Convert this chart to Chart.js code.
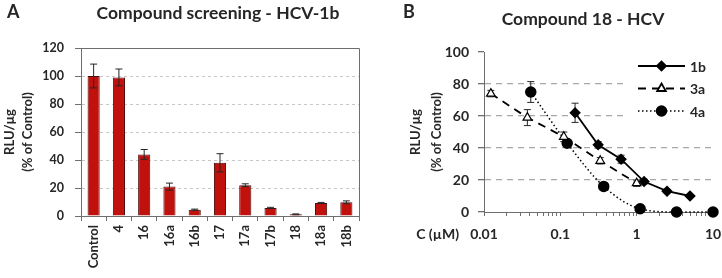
<!DOCTYPE html>
<html>
<head>
<meta charset="utf-8">
<script src="https://cdn.jsdelivr.net/npm/chart.js@4/dist/chart.umd.min.js"></script>
<style>
  html, body { margin: 0; padding: 0; background: #fff; }
  #wrapA { position: absolute; left: 0; top: 0; width: 400px; height: 278px; }
  #wrapB { position: absolute; left: 400px; top: 0; width: 322px; height: 278px; }
</style>
</head>
<body>
<div id="wrapA"><canvas id="chartA"></canvas></div>
<div id="wrapB"><canvas id="chartB"></canvas></div>
<script>
// ===== PANEL A DATA =====
const compounds = ["Control", "4", "16", "16a", "16b", "17", "17a", "17b", "18", "18a", "18b"];
const screenValues = [100, 99, 44, 21, 4.5, 38, 22, 5.8, 1.2, 9.3, 9.8];
const screenErrors = [8.5, 6, 3.5, 2.5, 0.4, 6.5, 1, 0.4, 0.3, 0.4, 1];
const yTicksA = [0, 20, 40, 60, 80, 100, 120];

// ===== PANEL B DATA =====
const conc1b = [0.156, 0.3125, 0.625, 1.25, 2.5, 5];
const rlu1b  = [62, 42, 33, 19, 13, 10];
const err1b  = [6, 2, 2.5, 1.5, 1, 1];

const conc3a = [0.0123, 0.037, 0.111, 0.333, 1.0];
const rlu3a  = [74, 59, 47, 32, 18];
const err3a  = [2, 5, 3, 2, 2];

const conc4a = [0.041, 0.123, 0.37, 1.11, 3.33, 10];
const rlu4a  = [75, 43, 16, 2, 0, 0];
const err4a  = [6.5, 1, 1, 0.5, 0, 0];

const yTicksB = [0, 20, 40, 60, 80, 100];
const decades = [0.01, 0.1, 1, 10];

const FONT = "Lato, 'Open Sans', sans-serif";
const TEXT = "#262626";

// ===== SHARED PLUGINS =====
function drawErrors(chart) {
  const ctx = chart.ctx;
  const yScale = chart.scales.y;
  chart.data.datasets.forEach((ds, di) => {
    if (!ds.errors) return;
    const meta = chart.getDatasetMeta(di);
    ctx.save();
    ctx.strokeStyle = "#262626";
    ctx.lineWidth = 1;
    ctx.setLineDash([]);
    meta.data.forEach((el, i) => {
      const e = ds.errors[i];
      if (!e) return;
      const d = ds.data[i];
      const v = typeof d === "object" ? d.y : d;
      const top = yScale.getPixelForValue(v + e);
      const bot = yScale.getPixelForValue(v - e);
      const x = el.x;
      const cap = ds.capWidth || 3.5;
      ctx.beginPath();
      ctx.moveTo(x, top); ctx.lineTo(x, bot);
      ctx.moveTo(x - cap, top); ctx.lineTo(x + cap, top);
      ctx.moveTo(x - cap, bot); ctx.lineTo(x + cap, bot);
      ctx.stroke();
    });
    ctx.restore();
  });
}

const panelText = {
  id: "panelText",
  afterDraw(chart, args, opts) {
    const ctx = chart.ctx;
    ctx.save();
    ctx.fillStyle = TEXT;
    ctx.textBaseline = "middle";
    ctx.textAlign = "left";
    ctx.font = "bold 18px " + FONT;
    ctx.fillText(opts.letter, opts.letterX, opts.letterY);
    ctx.textAlign = "center";
    ctx.font = "bold 17.5px " + FONT;
    ctx.fillText(opts.title, opts.titleX, opts.titleY);
    ctx.restore();
  }
};

// ===== CHART A: COMPOUND SCREENING =====
const boxAndErrors = {
  id: "boxAndErrors",
  afterDatasetsDraw(chart) {
    drawErrors(chart);
    const a = chart.chartArea;
    const ctx = chart.ctx;
    ctx.save();
    ctx.strokeStyle = "#6e6e6e";
    ctx.lineWidth = 1;
    ctx.beginPath();
    ctx.moveTo(a.left, a.top + 0.5);
    ctx.lineTo(a.right + 0.5, a.top + 0.5);
    ctx.lineTo(a.right + 0.5, a.bottom);
    ctx.stroke();
    ctx.restore();
  }
};

new Chart(document.getElementById("chartA"), {
  type: "bar",
  data: {
    labels: compounds,
    datasets: [{
      label: "HCV-1b",
      data: screenValues,
      errors: screenErrors,
      capWidth: 3.5,
      backgroundColor: "#c0110c",
      borderColor: "#4d0a08",
      borderWidth: 1,
      categoryPercentage: 0.48,
      barPercentage: 1
    }]
  },
  options: {
    responsive: true,
    maintainAspectRatio: false,
    devicePixelRatio: 1,
    animation: false,
    layout: { padding: { left: 0, right: 41, top: 48, bottom: 0 } },
    plugins: {
      legend: { display: false },
      tooltip: { enabled: false },
      panelText: { letter: "A", letterX: 7, letterY: 12, title: "Compound screening - HCV-1b", titleX: 218, titleY: 13 }
    },
    scales: {
      x: {
        offset: true,
        afterFit: s => { s.height = 62; s.paddingLeft = 0; s.paddingRight = 0; },
        grid: { offset: true, drawOnChartArea: false, tickLength: 5, tickColor: "#6e6e6e" },
        border: { color: "#6e6e6e" },
        ticks: {
          autoSkip: false, minRotation: 90, maxRotation: 90, padding: 4,
          color: TEXT, font: { family: FONT, size: 13, weight: "bold" }
        }
      },
      y: {
        min: 0, max: 120,
        afterFit: s => { s.width = 81; },
        afterBuildTicks: s => { s.ticks = yTicksA.map(v => ({ value: v })); },
        grid: {
          color: c => (c.tick.value === 0 || c.tick.value === 120) ? "rgba(0,0,0,0)" : "#c8c8c8",
          tickLength: 6, tickColor: "#6e6e6e"
        },
        border: { color: "#6e6e6e", dash: [3, 3] },
        ticks: { padding: 11, color: TEXT, font: { family: FONT, size: 12.5, weight: "bold" } },
        title: {
          display: true, text: ["RLU/µg", "(% of Control)"], color: TEXT,
          padding: { top: 1, bottom: 0 },
          font: { family: FONT, size: 13, weight: "bold", lineHeight: 1.4 }
        }
      }
    }
  },
  plugins: [boxAndErrors, panelText]
});

// ===== CHART B: COMPOUND 18 DOSE RESPONSE =====
const logTicks = [];
decades.forEach((d, i) => {
  if (i === decades.length - 1) { logTicks.push(d); return; }
  for (let m = 1; m <= 9; m++) logTicks.push(+(d * m).toPrecision(3));
});

const legendAndErrors = {
  id: "legendAndErrors",
  beforeDatasetsDraw(chart) {
    drawErrors(chart);
    const a = chart.chartArea;
    const ctx = chart.ctx;
    ctx.save();
    ctx.fillStyle = "#fff";
    ctx.fillRect(a.right - 86, a.top + 4, 86, 70);
    chart.data.datasets.forEach((ds, i) => {
      const y = a.top + 14 + i * 22.5;
      const x0 = a.right - 75, x1 = a.right - 28;
      ctx.strokeStyle = "#000";
      ctx.lineWidth = ds.borderWidth;
      ctx.setLineDash(ds.borderDash || []);
      ctx.beginPath(); ctx.moveTo(x0, y); ctx.lineTo(x1, y); ctx.stroke();
      ctx.setLineDash([]);
      ctx.fillStyle = ds.pointBackgroundColor;
      ctx.strokeStyle = "#000";
      Chart.helpers.drawPoint(ctx, {
        pointStyle: ds.pointStyle, radius: ds.pointRadius, rotation: 0, borderWidth: 1.2
      }, (x0 + x1) / 2, y);
      ctx.fillStyle = TEXT;
      ctx.font = "bold 14px " + FONT;
      ctx.textAlign = "left";
      ctx.textBaseline = "middle";
      ctx.fillText(ds.label, x1 + 5, y + 1);
    });
    ctx.restore();
  },
  afterDraw(chart) {
    const ctx = chart.ctx;
    const a = chart.chartArea;
    ctx.save();
    ctx.fillStyle = TEXT;
    ctx.font = "bold 14px " + FONT;
    ctx.textAlign = "right";
    ctx.textBaseline = "middle";
    ctx.fillText("C (µM)", a.left - 25, a.bottom + 22);
    ctx.restore();
  }
};

new Chart(document.getElementById("chartB"), {
  type: "line",
  data: {
    datasets: [
      {
        label: "1b",
        data: conc1b.map((c, i) => ({ x: c, y: rlu1b[i] })),
        errors: err1b,
        borderColor: "#000", borderWidth: 1.8, borderDash: [],
        pointStyle: "rectRot", pointRadius: 4.5,
        pointBackgroundColor: "#000", pointBorderColor: "#000",
        tension: 0, clip: false
      },
      {
        label: "3a",
        data: conc3a.map((c, i) => ({ x: c, y: rlu3a[i] })),
        errors: err3a,
        borderColor: "#000", borderWidth: 1.8, borderDash: [8, 6],
        pointStyle: "triangle", pointRadius: 5,
        pointBackgroundColor: "#fff", pointBorderColor: "#000", pointBorderWidth: 1.2,
        tension: 0, clip: false
      },
      {
        label: "4a",
        data: conc4a.map((c, i) => ({ x: c, y: rlu4a[i] })),
        errors: err4a,
        borderColor: "#000", borderWidth: 1.5, borderDash: [1.5, 2.5],
        pointStyle: "circle", pointRadius: 5,
        pointBackgroundColor: "#000", pointBorderColor: "#000",
        cubicInterpolationMode: "monotone", clip: false
      }
    ]
  },
  options: {
    responsive: true,
    maintainAspectRatio: false,
    devicePixelRatio: 1,
    animation: false,
    layout: { padding: { left: 0, right: 9, top: 52, bottom: 0 } },
    plugins: {
      legend: { display: false },
      tooltip: { enabled: false },
      panelText: { letter: "B", letterX: 3, letterY: 12, title: "Compound 18 - HCV", titleX: 183, titleY: 19 }
    },
    scales: {
      x: {
        type: "logarithmic",
        min: 0.01, max: 10,
        afterFit: s => { s.height = 66; s.paddingLeft = 0; s.paddingRight = 0; },
        afterBuildTicks: s => { s.ticks = logTicks.map(v => ({ value: v })); },
        grid: { drawOnChartArea: false, tickLength: 4, tickColor: "#6e6e6e" },
        border: { color: "#6e6e6e" },
        ticks: {
          autoSkip: false, maxRotation: 0, padding: 10,
          color: TEXT, font: { family: FONT, size: 14, weight: "bold" },
          callback: v => decades.includes(v) ? String(v) : ""
        }
      },
      y: {
        min: 0, max: 100,
        afterFit: s => { s.width = 84; },
        afterBuildTicks: s => { s.ticks = yTicksB.map(v => ({ value: v })); },
        grid: {
          color: c => (c.tick.value === 0 || c.tick.value === 100) ? "rgba(0,0,0,0)" : "#a8a8a8",
          lineWidth: 1.3, tickLength: 6, tickColor: "#6e6e6e"
        },
        border: { color: "#6e6e6e", dash: [6, 5] },
        ticks: { padding: 9, color: TEXT, font: { family: FONT, size: 14, weight: "bold" } },
        title: {
          display: true, text: ["RLU/µg", "(% of Control)"], color: TEXT,
          padding: { top: 5, bottom: 0 },
          font: { family: FONT, size: 13, weight: "bold", lineHeight: 1.65 }
        }
      }
    }
  },
  plugins: [legendAndErrors, panelText]
});
</script>
</body>
</html>
